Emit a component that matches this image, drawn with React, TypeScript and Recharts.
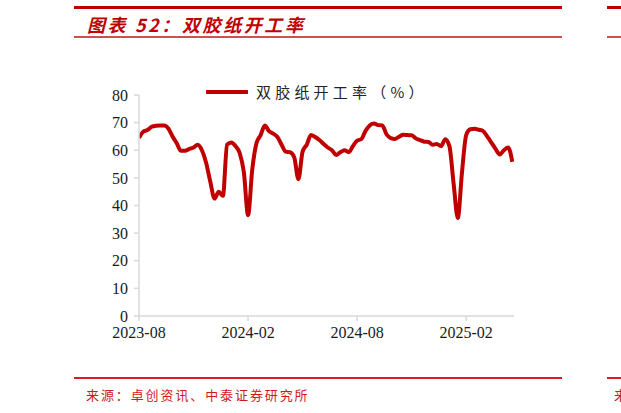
import React from 'react';
import { LineChart, Line, XAxis, YAxis, Legend } from 'recharts';

const TITLE = '图表 52：双胶纸开工率';
const SOURCE = '来源：卓创资讯、中泰证券研究所';
const SERIES_NAME = '双胶纸开工率（%）';

const xTickIndex = [0, 26, 52, 78];
const xTickLabels = ['2023-08', '2024-02', '2024-08', '2025-02'];
const yTicks = [0, 10, 20, 30, 40, 50, 60, 70, 80];

const rate = [
  64.5, 66.7, 67.3, 68.5, 68.9, 69.0, 69.0, 67.9, 65.0, 62.5,
  59.8, 59.8, 60.5, 61.0, 62.0, 60.0, 55.5, 48.6, 42.5, 45.0,
  43.5, 62.0, 62.8, 61.5, 59.0, 52.0, 36.5, 53.0, 62.5, 65.5,
  69.0, 66.9, 66.0, 64.8, 62.0, 59.5, 59.3, 57.5, 49.5, 59.5,
  62.0, 65.5, 64.8, 63.7, 62.3, 61.0, 60.0, 58.3, 59.3, 60.0,
  59.3, 61.5, 63.5, 64.0, 67.0, 69.0, 69.7, 69.1, 69.0, 65.8,
  64.4, 64.1, 64.9, 65.6, 65.5, 65.4, 64.3, 63.7, 63.1, 63.0,
  62.0, 62.3, 61.5, 64.0, 61.5, 48.0, 35.5, 52.0, 65.5, 67.6,
  67.8, 67.4, 67.0, 65.0, 62.8, 60.5, 58.5, 60.0, 61.0, 55.8,
];

const data = rate.map((v, i) => ({ i, v }));

const RED = '#c00000';

const LegendContent = () => (
  <div style={{ display: 'flex', alignItems: 'center' }}>
    <svg width={42} height={8} style={{ display: 'block' }}>
      <line x1={1} y1={4} x2={41} y2={4} stroke={RED} strokeWidth={4} strokeLinecap="round" />
    </svg>
    <span
      style={{
        marginLeft: 8,
        fontFamily: '"Noto Sans CJK SC", sans-serif',
        fontSize: 15,
        letterSpacing: 4.2,
        color: '#222',
        whiteSpace: 'nowrap',
        lineHeight: '16px',
      }}
    >
      {SERIES_NAME}
    </span>
  </div>
);

export default function App() {
  return (
    <div style={{ position: 'absolute', left: 0, top: 0, width: 621, height: 413, background: '#fff', overflow: 'hidden' }}>
      <div style={{ position: 'absolute', left: 74, top: 6, width: 488, height: 3, background: RED }} />
      <div style={{ position: 'absolute', left: 607, top: 6, width: 20, height: 3, background: RED }} />
      <div style={{ position: 'absolute', left: 74, top: 36, width: 488, height: 1.5, background: '#d05050' }} />
      <div style={{ position: 'absolute', left: 607, top: 36, width: 20, height: 1.5, background: '#d05050' }} />
      <div
        style={{
          position: 'absolute',
          left: 87,
          top: 13,
          fontFamily: '"Noto Sans CJK SC", sans-serif',
          fontSize: 18,
          fontWeight: 700,
          fontStyle: 'italic',
          letterSpacing: 2.6,
          color: RED,
          whiteSpace: 'nowrap',
          lineHeight: '22px',
        }}
      >
        {TITLE}
      </div>

      <div style={{ position: 'absolute', left: 0, top: 0 }}>
        <LineChart width={621} height={413} data={data} margin={{ top: 95, right: 107, bottom: 67, left: 79 }}>
          <XAxis
            dataKey="i"
            type="number"
            domain={[0, 89.4]}
            ticks={xTickIndex}
            tickFormatter={(v: number) => xTickLabels[xTickIndex.indexOf(v)] ?? ''}
            axisLine={{ stroke: '#d9d9d9', strokeWidth: 1.5 }}
            tickLine={{ stroke: '#d9d9d9', strokeWidth: 1.5 }}
            tickSize={5}
            tickMargin={6}
            tick={{ fill: '#1a1a1a', fontSize: 16, fontFamily: '"Liberation Serif", serif' }}
            height={30}
            allowDataOverflow
          />
          <YAxis
            type="number"
            domain={[0, 80]}
            ticks={yTicks}
            interval={0}
            axisLine={{ stroke: '#d9d9d9', strokeWidth: 1.5 }}
            tickLine={{ stroke: '#d9d9d9', strokeWidth: 1.5 }}
            tickSize={5}
            tickMargin={6}
            tick={{ fill: '#1a1a1a', fontSize: 16, fontFamily: '"Liberation Serif", serif' }}
            width={60}
          />
          <Legend
            layout="horizontal"
            verticalAlign="middle"
            align="center"
            content={<LegendContent />}
            wrapperStyle={{ top: 84, left: 206, width: 240, height: 18 }}
          />
          <Line
            type="monotone"
            dataKey="v"
            name={SERIES_NAME}
            stroke={RED}
            strokeWidth={4}
            dot={false}
            isAnimationActive={false}
          />
        </LineChart>
      </div>

      <div style={{ position: 'absolute', left: 74, top: 377, width: 488, height: 1.5, background: '#d42020' }} />
      <div style={{ position: 'absolute', left: 607, top: 377, width: 20, height: 1.5, background: '#d42020' }} />
      <div
        style={{
          position: 'absolute',
          left: 86,
          top: 386,
          fontFamily: '"Noto Sans CJK SC", sans-serif',
          fontSize: 13,
          letterSpacing: 1.9,
          color: '#d01818',
          whiteSpace: 'nowrap',
          lineHeight: '17px',
        }}
      >
        {SOURCE}
      </div>
      <div
        style={{
          position: 'absolute',
          left: 614,
          top: 386,
          fontFamily: '"Noto Sans CJK SC", sans-serif',
          fontSize: 13,
          color: '#d01818',
          whiteSpace: 'nowrap',
          lineHeight: '17px',
        }}
      >
        来
      </div>
    </div>
  );
}
